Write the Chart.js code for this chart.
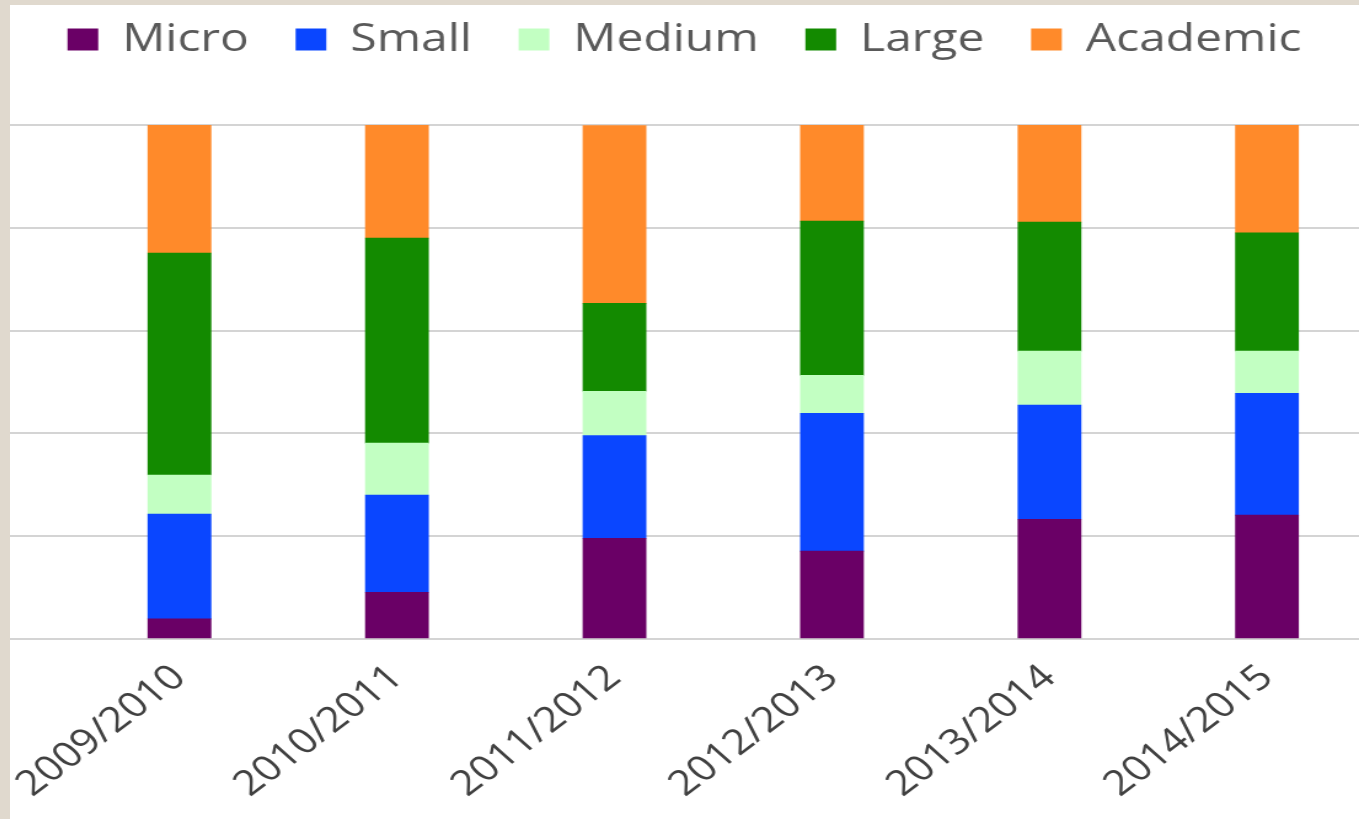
<!DOCTYPE html>
<html>
<head>
<meta charset="utf-8">
<script src="https://cdn.jsdelivr.net/npm/chart.js@4"></script>
<style>
  html, body { margin: 0; padding: 0; background: #e0d9ce; overflow: hidden; }
  #frame { position: absolute; left: 10px; top: 5px; width: 1349px; height: 814px; background: #fff; overflow: hidden; }
  #wrap { width: 1097px; height: 814px; transform: scaleX(1.2297); transform-origin: 0 0; }
</style>
</head>
<body>
<div id="frame"><div id="wrap"><canvas id="chart"></canvas></div></div>
<script>
const years = ['2009/2010', '2010/2011', '2011/2012', '2012/2013', '2013/2014', '2014/2015'];
const micro = [3.9, 9.1, 19.6, 17.1, 23.3, 24.1];
const small = [20.4, 18.9, 20.0, 26.8, 22.2, 23.7];
const medium = [7.6, 10.1, 8.6, 7.4, 10.5, 8.2];
const large = [43.2, 39.9, 17.1, 30.0, 25.1, 23.0];
const academic = [24.9, 22.0, 34.6, 18.7, 18.9, 21.0];

const seriesNames = ['Micro', 'Small', 'Medium', 'Large', 'Academic'];
const seriesValues = [micro, small, medium, large, academic];
const colors = ['#6a0066', '#0a46ff', '#c2ffc2', '#138a00', '#ff8a2a'];

const ctx = document.querySelector('#chart').getContext('2d');

// legend takes a fixed band at the top (shifted up by the negative padding)
const legendBand = {
  id: 'legendBand',
  beforeInit(chart) {
    const fit = chart.legend.fit;
    chart.legend.fit = function () {
      fit.bind(chart.legend)();
      this.height = 143;
    };
  }
};

new Chart(ctx, {
  type: 'bar',
  data: {
    datasets: seriesNames.map((name, i) => ({
      label: name,
      data: seriesValues[i].map((v, j) => ({ x: j, y: v })),
      backgroundColor: colors[i],
      borderWidth: 0,
      barThickness: 51.2
    }))
  },
  options: {
    responsive: true,
    maintainAspectRatio: false,
    animation: false,
    layout: { padding: { top: -23, left: 0, right: 0, bottom: 0 } },
    plugins: {
      legend: {
        position: 'top',
        labels: {
          boxWidth: 25,
          boxHeight: 22,
          padding: 38,
          color: '#595959',
          font: { family: 'Open Sans', size: 39 }
        }
      },
      tooltip: { enabled: false }
    },
    scales: {
      x: {
        type: 'linear',
        offset: false,
        stacked: true,
        min: -0.779,
        max: 5.423,
        grid: { display: false },
        border: { display: false },
        afterFit(scale) {
          scale.height = 180;
          scale.paddingLeft = 0;
          scale.paddingRight = 0;
        },
        ticks: {
          stepSize: 1,
          includeBounds: false,
          autoSkip: false,
          minRotation: 43,
          maxRotation: 43,
          padding: 10,
          color: '#404040',
          font: { family: 'Open Sans', size: 35 },
          callback: v => years[v] ?? ''
        }
      },
      y: {
        stacked: true,
        min: 0,
        max: 100,
        border: { display: false },
        afterFit(scale) { scale.width = 0; },
        grid: { color: '#d4d4d4', lineWidth: 2, drawTicks: false },
        ticks: { display: false, stepSize: 20 }
      }
    }
  },
  plugins: [legendBand]
});
</script>
</body>
</html>
